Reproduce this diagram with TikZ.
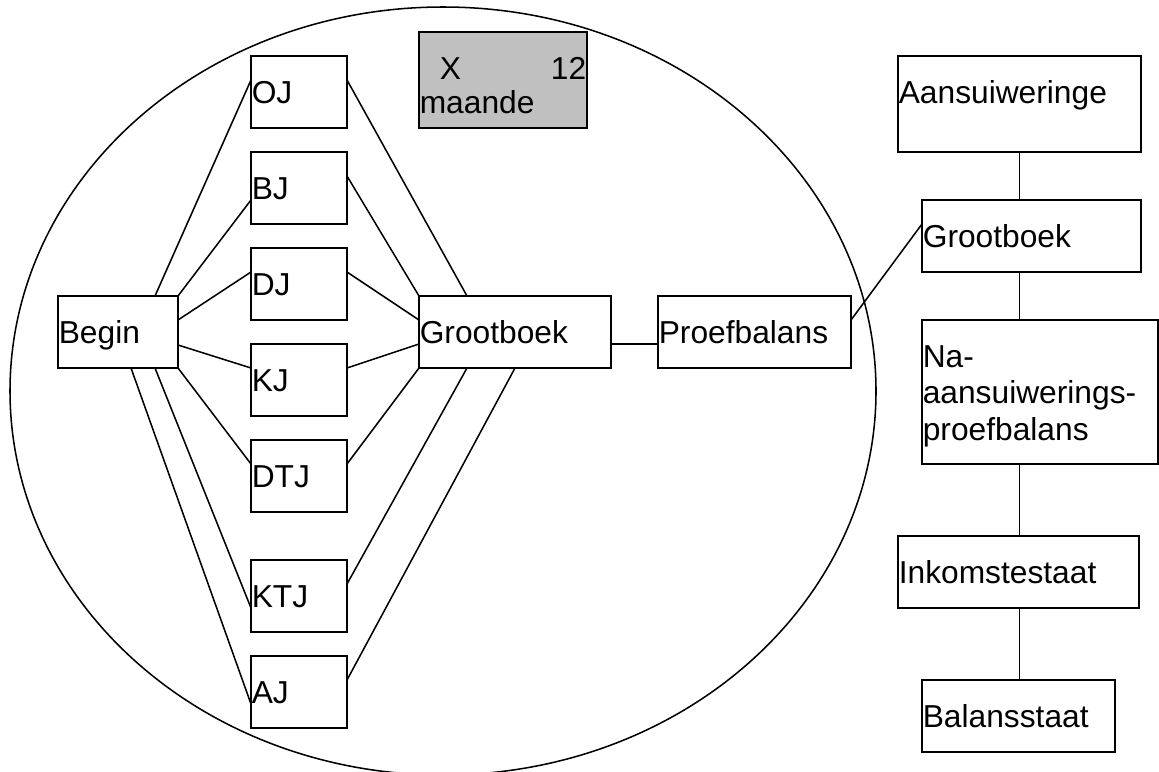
\documentclass[tikz,border=0pt]{standalone}
\usepackage{fontspec}
\setmainfont{Liberation Sans}
\usetikzlibrary{calc}
\definecolor{boxgray}{HTML}{C0C0C0}
\begin{document}
\begin{tikzpicture}[x=0.75pt,y=-0.75pt,line width=1.15pt,
  box/.style={draw,rectangle,anchor=north west,outer sep=0pt,inner xsep=0.6pt,inner ysep=0pt,
    align=left,text height=35.25pt,font=\fontsize{23.8}{27.4}\selectfont},
  h72/.style={minimum height=54pt,text depth=18.75pt},
  h96/.style={minimum height=72pt,text depth=36.75pt},
  h144/.style={minimum height=108pt,text depth=72.75pt},
  w96/.style={minimum width=72pt,text width=70.8pt},
  w120/.style={minimum width=90pt,text width=88.8pt},
  w192/.style={minimum width=144pt,text width=142.8pt},
  w193/.style={minimum width=144.75pt,text width=143.55pt},
  w168/.style={minimum width=126pt,text width=124.8pt},
  w243/.style={minimum width=182.25pt,text width=181.05pt},
  w219/.style={minimum width=164.25pt,text width=163.05pt},
  w236/.style={minimum width=177pt,text width=175.8pt},
  w241/.style={minimum width=180.75pt,text width=179.55pt},
  jbox/.style={box,w96,h72}
]
\useasboundingbox (0,0) rectangle (1159,771);
\draw (443,391) ellipse [x radius=433, y radius=384];

\node[jbox] (OJ)  at (251,56)  {OJ};
\node[jbox] (BJ)  at (251,152) {BJ};
\node[jbox] (DJ)  at (251,248) {DJ};
\node[jbox] (KJ)  at (251,344) {KJ};
\node[jbox] (DTJ) at (251,440) {DTJ};
\node[jbox] (KTJ) at (251,560) {KTJ};
\node[jbox] (AJ)  at (251,656) {AJ};
\node[box,w120,h72] (Begin) at (58,296) {Begin};
\node[box,w192,h72] (GB) at (419,296) {Grootboek};
\node[box,w193,h72] (Proef) at (658,296) {Proefbalans};
\node[box,w168,h96,fill=boxgray,font=\fontsize{23.8}{26}\selectfont] (X12) at (419,32) {\hspace*{15pt}X\hfill 12\\maande};
\node[box,w243,h96] (Aans) at (898,56) {Aansuiweringe};
\node[box,w219,h72] (GB2) at (922,200) {Grootboek};
\node[box,w236,h144] (Na) at (922,320) {Na-\\aansuiwerings-\\proefbalans};
\node[box,w241,h72] (Ink) at (898,536) {Inkomstestaat};
\node[box,w193,h72] (Bal) at (922,680) {Balansstaat};

% Begin to journals
\draw ($(Begin.north west)+(97,0)$) -- ($(OJ.north west)+(0,24)$);
\draw (Begin.north east) -- ($(BJ.north west)+(0,48)$);
\draw ($(Begin.north east)+(0,24)$) -- ($(DJ.north west)+(0,24)$);
\draw ($(Begin.north east)+(0,49)$) -- ($(KJ.north west)+(0,24)$);
\draw (Begin.south east) -- ($(DTJ.north west)+(0,24)$);
\draw ($(Begin.south west)+(97,0)$) -- ($(KTJ.north west)+(0,48)$);
\draw ($(Begin.south west)+(73,0)$) -- ($(AJ.north west)+(0,48)$);

% journals to Grootboek
\draw ($(OJ.north east)+(0,24)$) -- ($(GB.north west)+(48,0)$);
\draw ($(BJ.north east)+(0,24)$) -- (GB.north west);
\draw ($(DJ.north east)+(0,24)$) -- ($(GB.north west)+(0,24)$);
\draw ($(KJ.north east)+(0,24)$) -- ($(GB.north west)+(0,48)$);
\draw ($(DTJ.north east)+(0,24)$) -- (GB.south west);
\draw ($(KTJ.north east)+(0,24)$) -- ($(GB.south west)+(48,0)$);
\draw ($(AJ.north east)+(0,24)$) -- ($(GB.south west)+(96,0)$);

\draw ($(GB.north east)+(0,48)$) -- ($(Proef.north west)+(0,48)$);
\draw ($(Proef.north east)+(0,24)$) -- ($(GB2.north west)+(0,24)$);

% right column
\draw (Aans.south) -- (Aans.south |- GB2.north);
\draw (Aans.south |- GB2.south) -- (Aans.south |- Na.north);
\draw (Aans.south |- Na.south) -- (Aans.south |- Ink.north);
\draw (Aans.south |- Ink.south) -- (Aans.south |- Bal.north);
\end{tikzpicture}
\end{document}
